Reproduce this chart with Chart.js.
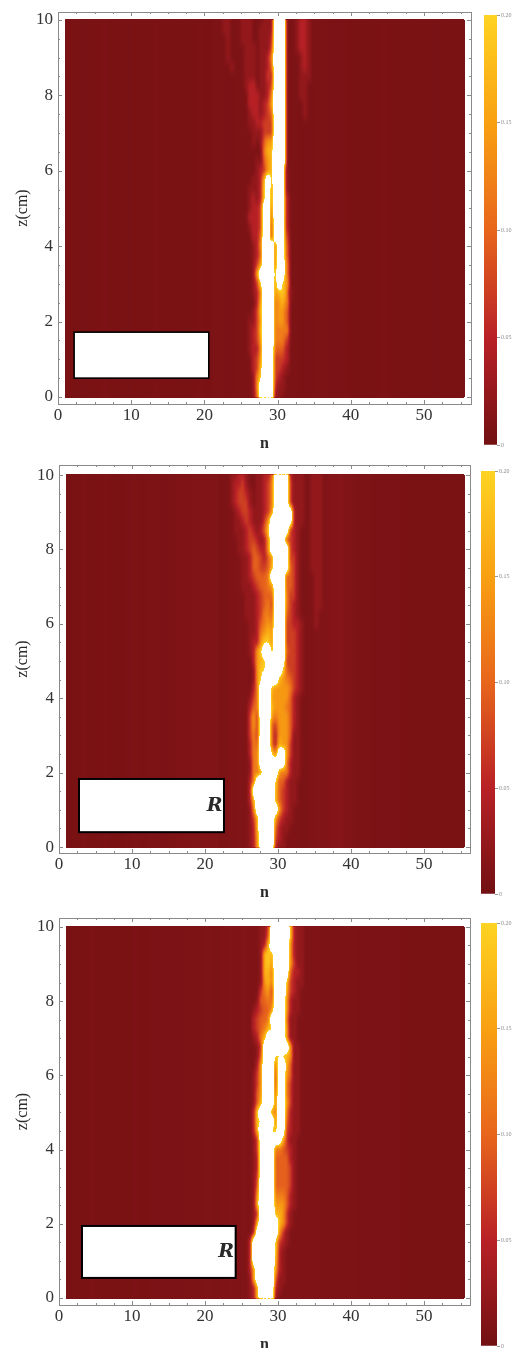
<!DOCTYPE html>
<html><head><meta charset="utf-8">
<style>html,body{margin:0;padding:0;background:#fff;width:518px;height:1348px;overflow:hidden}canvas{position:absolute;display:block}</style>
<script src="https://cdn.jsdelivr.net/npm/chart.js@4/dist/chart.umd.min.js"></script>
</head><body>
<script>
// Heat cells: rows run z = 10 → 0 in 0.25 steps, columns run n = 21 → 37 in 0.5 steps.
// Digit d = value d*0.024; X = above the 0.20 colour scale (white); 0 = only the base column value.
const panel1Rows = [
"00011000 11100011 1XXX0001 22100000","00011000 11100111 1XXX0001 22100000","00001000 11100111 2XXX0001 22100000",
"00001000 01110111 3XXX0001 22100000","00001000 01110112 5XXX0000 12100000","00000100 01110112 4XXX0000 12100000",
"00000000 01110113 2XXX0000 11100000","00000000 01220112 3XXX0000 11000000","00000000 00222112 5XXX0000 11000000",
"00000000 00222123 6XXX0000 01000000","00000000 00122123 4XXX0000 01000000","00000000 00112233 3XXX0000 00000000",
"00000000 00011133 3XXX0000 00000000","00000000 00010146 6XXX0000 00000000","00000000 00000057 7XXX0000 00000000",
"00000000 00001046 7XXX0000 00000000","00000000 00001236 7XXX1000 00000000","00000000 0001127X 7XXX1000 00000000",
"00000000 0011128X 6XXX1000 00000000","00000000 0012128X 6XXX2000 00000000","00000000 001223XX 5XXX2000 00000000",
"00000000 002223XX 4XXX2000 00000000","00000000 001223XX 3XXX2000 00000000","00000000 000224XX 3XXX3000 00000000",
"00000000 000125XX X5XX4000 00000000","00000000 000124XX X5XX4000 00000000","00000000 000136XX X5XX5000 00000000",
"00000000 00016XXX X7XX5000 00000000","00000000 000138XX X6X86000 00000000","00000000 000125XX X6786100 00000000",
"00000000 000026XX X5675000 00000000","00000000 000137XX X5664000 00000000","00000000 001136XX X5664000 00000000",
"00000000 001237XX X5555000 00000000","00000000 001236XX X5553000 00000000","00000000 001225XX X4442000 00000000",
"00000000 000236XX X3332000 00000000","00000000 000237XX X3321000 00000000","00000000 000158XX X3210000 00000000",
"00000000 00015XXX X2110000 00000000","00000000 00014XXX X1100000 00000000"];
const panel2Rows = [
"00000112 21001122 4XXXX211 10011100","00000122 31001123 5XXXX311 10011100","00000123 32101123 5XXXX311 10011100",
"00000123 33101123 5XXXX311 10011100","00000012 33211123 6XXXXX21 10011100","00000011 23211136 XXXXXX21 10011100",
"00000011 12321248 XXXXX321 00011100","00000001 12332126 XXXX4321 00011100","00000001 12343226 XXXXX321 00011100",
"00000000 11244324 6XXXX331 00011100","00000000 11244334 7XXXX431 00011100","00000000 11234445 XXXX4431 00001100",
"00000000 11123445 6XXX4431 00001100","00000000 01112344 4XXX5331 00001100","00000000 01112345 3XXX5321 00001100",
"00000000 01112355 4XXX4321 00001000","00000000 00112456 5XXX3322 10001000","00000000 00112567 6XXX3332 10000000",
"00000000 00122688 6XXX3332 10000000","00000000 001268XX 7XXX4332 10000000","00000000 0002678X XXXX3332 10000000",
"00000000 0001688X XXX84332 10000000","00000000 000168XX XX765432 10000000","00000000 00025XXX 76666532 10000000",
"00000000 00135XXX 66666421 00000000","00000000 00245XXX 76665421 00000000","00000000 00363XXX 65666421 00000000",
"00000000 00363XXX 43666421 00000000","00000000 00353XXX 42666411 00000000","00000000 00254XXX 42766311 00000000",
"00000000 00255XXX 85XX6311 00000000","00000000 00155XXX XXXX5211 00000000","00000000 001557XX XX655211 00000000",
"00000000 0025XXXX X8442110 00000000","00000000 002XXXXX X7432110 00000000","00000000 0027XXXX X7432110 00000000",
"00000000 0015XXXX XX632100 00000000","00000000 00137XXX X6321100 00000000","00000000 00127XXX X4211000 00000000",
"00000000 00126XXX X3210000 00000000","00000000 00126XXX X2110000 00000000"];
const panel3Rows = [
"00000000 00000113 XXXXX821 10000000","00000000 00000114 XXXXX821 10000000","00000000 00000127 XXXXX621 10000000",
"00000000 00000178 7XXXX621 10000000","00000000 00000178 6XXXX631 10000000","00000000 00000177 5XXXX422 10000000",
"00000000 00000167 5XXX8321 10000000","00000000 00000356 3XXX7321 00000000","00000000 00001445 4XXX6211 00000000",
"00000000 00012344 6XXX6211 00000000","00000000 00023445 XXXX5110 00000000","00000000 00023457 8XXX6110 00000000",
"00000000 0001257X XXXX6110 00000000","00000000 000013XX XXXXX611 00000000","00000000 000014XX X8887611 00000000",
"00000000 000026XX X4XX7411 00000000","00000000 000136XX X3XX6411 00000000","00000000 000136XX X3XX5311 00000000",
"00000000 000146XX X4XX5311 00000000","00000000 000147XX X5XX6311 00000000","00000000 00028XXX 65XX5211 00000000",
"00000000 0002899X X5XX4211 00000000","00000000 00027XXX 87XX3211 00000000","00000000 00013XXX XXX73110 00000000",
"00000000 00013XXX X5543210 00000000","00000000 00012XXX X4444210 00000000","00000000 00012XXX X4444310 00000000",
"00000000 00013XXX X4444310 00000000","00000000 00014XXX X4444310 00000000","00000000 00016XXX X5554210 00000000",
"00000000 00017XXX X6664210 00000000","00000000 00013XXX X7763100 00000000","00000000 00017XXX XX763100 00000000",
"00000000 0002XXXX XX631000 00000000","00000000 002XXXXX X8321000 00000000","00000000 002XXXXX X8210000 00000000",
"00000000 002XXXXX X7210000 00000000","00000000 0026XXXX X6210000 00000000","00000000 0016XXXX X4110000 00000000",
"00000000 00127XXX X2100000 00000000","00000000 00127XXX X1000000 00000000"];
// Background level per integer n = 1..55, in thousandths.
const panel1Base = [6,6,5,6,6,7,6,6,5,6, 6,6,7,6,6,6,5,6,7,6, 8,8,7,8,8,8,7,7,7,7, 8,8,7,7,8,8,7,7,7,6, 6,6,6,7,6,6,6,6,6,6, 5,6,6,6,6];
const panel2Base = [6,6,7,6,6,7,6,6,7,8, 7,8,8,7,8,9,9,10,11,12, 10,8,9,11,10,9,9,9,9,9, 9,9,8,9,10,10,13,14,12,9, 8,8,7,7,7,7,6,6,6,6, 6,6,6,6,6];
const panel3Base = [6,6,6,7,6,6,6,6,6,7, 6,7,7,7,7,7,8,8,8,9, 8,9,10,9,10,9,9,9,9,9, 9,9,9,9,9,8,8,8,8,8, 7,7,7,7,7,7,6,6,6,6, 6,6,6,6,6];
const nTicks = [0,10,20,30,40,50];
const zTicks = [0,2,4,6,8,10];
const colorTicks = [0,0.05,0.10,0.15,0.20];
// [n from, n to, z from, z to]
const panel1Box = [2.2,20.6,0.50,1.72];
const panel2Box = [2.74,22.6,0.40,1.83];
const panel3Box = [3.15,24.2,0.54,1.94];
const boxLabels = ["","R","R"];

const colorStops = [[0,'#721012'],[0.05,'#b82126'],[0.10,'#e8651c'],[0.15,'#f9a012'],[0.20,'#fed322']];
const SAT = 0.3, BLUR = 1.4, ROW_SMOOTH = 4;
const hex = c => [1,3,5].map(i=>parseInt(c.substr(i,2),16));
const lut = [];
for(let g=0;g<256;g++){
  const v=g/255*SAT; let col=[255,255,255];
  if(v<=0.2){ for(let i=0;i<colorStops.length-1;i++){ const [a,ca]=colorStops[i],[b,cb]=colorStops[i+1];
    if(v>=a&&v<=b){const t=(v-a)/(b-a),A=hex(ca),B=hex(cb);col=A.map((x,j)=>Math.round(x+(B[j]-x)*t));break;} } }
  lut.push(col);
}
const gray = v => { const g=Math.round(Math.min(v,SAT)/SAT*255); return `rgb(${g},${g},${g})`; };

function buildCells(rows, base){
  const data=[], colors=[];
  base.forEach((b,i)=>{ for(const off of [0.25,0.75]){ const n=1+i+off; if(n>55.25) continue;
    data.push({x:n,y:[0,10]}); colors.push(gray(b/1000)); }});
  rows.forEach((r,i)=>{ const z=10-i*0.25, s=r.replace(/ /g,'');
    [...s].forEach((ch,k)=>{ if(ch==='0') return;
      data.push({x:21.25+0.5*k,y:[Math.max(0,z-0.125),Math.min(10,z+0.125)]});
      colors.push(gray(ch==='X'?SAT:Math.min(0.195,(+ch)*0.024))); }); });
  return {data,colors};
}

const heatPlugin={id:'heatmapColour',afterDatasetsDraw(chart){
  const {ctx,canvas,scales:{x,y}}=chart;
  const l=Math.round(x.getPixelForValue(1)),r=Math.round(x.getPixelForValue(55.25)),t=Math.round(y.getPixelForValue(10)),b=Math.round(y.getPixelForValue(0));
  ctx.save();ctx.beginPath();ctx.rect(l,t,r-l,b-t);ctx.clip();ctx.filter=`blur(${BLUR}px)`;ctx.drawImage(canvas,0,0);ctx.restore();
  const m=3,W=r-l+2*m,H=b-t+2*m,img=ctx.getImageData(l-m,t-m,W,H),d=img.data;
  const src=new Uint8ClampedArray(W*H);
  for(let i=0;i<W*H;i++) src[i]=d[4*i];
  for(let px=m;px<W-m;px++) for(let py=m;py<H-m;py++){
    let s=0,c=0; for(let q=Math.max(m,py-ROW_SMOOTH);q<=Math.min(H-m-1,py+ROW_SMOOTH);q++){s+=src[q*W+px];c++;}
    d[4*(py*W+px)]=s/c;
  }
  for(let i=0;i<d.length;i+=4){ if(d[i+3]<128){d[i+3]=0;continue;} const c=lut[d[i]];d[i]=c[0];d[i+1]=c[1];d[i+2]=c[2];d[i+3]=255;}
  ctx.putImageData(img,l-m,t-m);
}};
const framePlugin={id:'frameAndBox',afterDraw(chart,_,o){
  const {ctx,chartArea:a,scales:{x,y}}=chart;
  ctx.save();ctx.strokeStyle='#8a8a8a';ctx.lineWidth=1;
  ctx.strokeRect(Math.round(a.left)+.5,Math.round(a.top)+.5,Math.round(a.width),Math.round(a.height));
  ctx.beginPath();
  const tx=(n,len)=>{const p=Math.round(x.getPixelForValue(n))+.5;ctx.moveTo(p,a.top);ctx.lineTo(p,a.top+len);ctx.moveTo(p,a.bottom);ctx.lineTo(p,a.bottom-len);};
  const ty=(z,len)=>{const p=Math.round(y.getPixelForValue(z))+.5;ctx.moveTo(a.left,p);ctx.lineTo(a.left+len,p);ctx.moveTo(a.right,p);ctx.lineTo(a.right-len,p);};
  for(let n=0;n<=55;n+=2.5) tx(n,n%10===0?4:2);
  for(let z=0;z<=10;z+=0.5) ty(z,z%2===0?4:2);
  ctx.stroke();
  const [n0,n1,z0,z1]=o.box;
  const bx=x.getPixelForValue(n0),bw=x.getPixelForValue(n1)-bx,by=y.getPixelForValue(z1),bh=y.getPixelForValue(z0)-by;
  ctx.fillStyle='#fff';ctx.fillRect(bx,by,bw,bh);
  ctx.strokeStyle='#000';ctx.lineWidth=o.boxLine;ctx.strokeRect(bx,by,bw,bh);
  if(o.label){ctx.fillStyle='#2a2a2a';ctx.font='italic bold 19px "DejaVu Serif"';ctx.textAlign='right';ctx.textBaseline='middle';ctx.fillText(o.label,bx+bw-1.5,by+bh/2);}
  ctx.restore();
}};

const layouts=[
 {rows:panel1Rows,base:panel1Base,box:panel1Box,label:boxLabels[0],top:0,h:458,left:58,right:471,fTop:12,fBot:404,xh:50,zMin:-0.186,zMax:10.21,pxN:7.32,boxLine:1.6,
  cb:{left:484,right:497,top:15,bot:445}},
 {rows:panel2Rows,base:panel2Base,box:panel2Box,label:boxLabels[1],top:458,h:450,left:59,right:470,fTop:465,fBot:853,xh:50,zMin:-0.16,zMax:10.27,pxN:7.3,boxLine:2,
  cb:{left:481,right:495,top:471,bot:894}},
 {rows:panel3Rows,base:panel3Base,box:panel3Box,label:boxLabels[2],top:908,h:440,left:59,right:470,fTop:918,fBot:1305,xh:43,zMin:-0.19,zMax:10.24,pxN:7.3,boxLine:2,
  cb:{left:481,right:497,top:923,bot:1346}}
];
const serif='"Liberation Serif"';
function addCanvas(l,t,w,h){const c=document.createElement('canvas');c.width=w;c.height=h;c.style.left=l+'px';c.style.top=t+'px';c.style.width=w+'px';c.style.height=h+'px';document.body.appendChild(c);return c;}
Chart.defaults.animation=false;

layouts.forEach(L=>{
  const W=478,c=addCanvas(0,L.top,W,L.h),{data,colors}=buildCells(L.rows,L.base);
  new Chart(c,{type:'bar',
    data:{datasets:[{data,backgroundColor:colors,borderWidth:0,inflateAmount:0.5,barPercentage:1,categoryPercentage:1,grouped:false}]},
    plugins:[heatPlugin,framePlugin],
    options:{responsive:false,animation:false,events:[],
      layout:{padding:{left:0,right:W-L.right,top:L.fTop-L.top,bottom:L.h-(L.fBot-L.top)-L.xh}},
      plugins:{legend:{display:false},tooltip:{enabled:false},frameAndBox:{box:L.box,label:L.label,boxLine:L.boxLine}},
      scales:{
        x:{type:'linear',offset:false,min:0,max:(L.right-L.left)/L.pxN,grid:{display:false,drawTicks:false},border:{display:false},
          afterBuildTicks:s=>{s.ticks=nTicks.map(value=>({value}));},afterFit:s=>{s.height=L.xh;s.paddingLeft=0;s.paddingRight=0;},
          ticks:{autoSkip:false,maxRotation:0,padding:1,color:'#333',font:{family:serif,size:17}},
          title:{display:true,text:'n',color:'#2a2a2a',font:{family:serif,size:16,weight:'bold'},padding:{top:0,bottom:L.xh-49}}},
        y:{type:'linear',min:L.zMin,max:L.zMax,grid:{display:false,drawTicks:false},border:{display:false},
          afterBuildTicks:s=>{s.ticks=zTicks.map(value=>({value}));},afterFit:s=>{s.width=L.left;s.paddingTop=0;s.paddingBottom=0;},
          ticks:{autoSkip:false,padding:5,color:'#333',font:{family:serif,size:17}},
          title:{display:true,text:'z(cm)',color:'#2a2a2a',font:{family:serif,size:16},padding:{top:13,bottom:0}}}
      }}});
  // colour bar
  const C=L.cb,cl=478,ch=L.cb.bot+3-(L.cb.top-3),ct=L.cb.top-3,cv=addCanvas(cl,ct,40,ch);
  new Chart(cv,{type:'bar',
    data:{labels:['scale'],datasets:[{data:[[colorTicks[0],colorTicks[4]]],barPercentage:1,categoryPercentage:1,borderWidth:0,
      backgroundColor(ctx){const a=ctx.chart.chartArea;if(!a)return '#000';const g=ctx.chart.ctx.createLinearGradient(0,a.bottom,0,a.top);colorStops.forEach(([v,col])=>g.addColorStop(v/0.2,col));return g;}}]},
    options:{responsive:false,animation:false,events:[],
      layout:{padding:{left:C.left-cl,right:0,top:3,bottom:3}},
      plugins:{legend:{display:false},tooltip:{enabled:false}},
      scales:{x:{display:false},
        y:{position:'right',min:0,max:0.2,border:{display:false},grid:{drawOnChartArea:false,drawTicks:true,tickLength:3,color:'#999'},
          afterBuildTicks:s=>{s.ticks=colorTicks.map(value=>({value}));},afterFit:s=>{s.width=40-(C.right-cl);s.paddingTop=0;s.paddingBottom=0;},
          ticks:{autoSkip:false,padding:1,color:'#8a8a8a',font:{family:serif,size:6},callback:v=>v===0?'0':v.toFixed(2)}}}}});
});
</script>
</body></html>
